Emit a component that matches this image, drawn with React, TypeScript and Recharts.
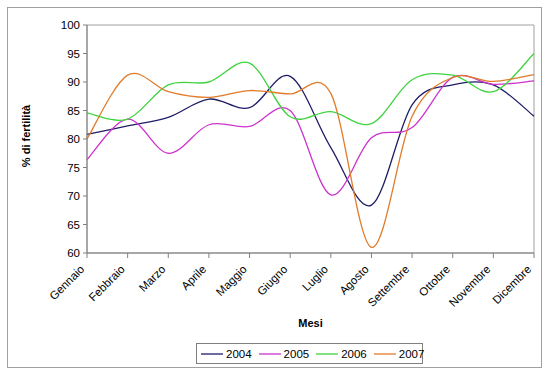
import React from 'react';
import { LineChart, Line, XAxis, YAxis, Legend, ReferenceArea } from 'recharts';

const MONTHS = ['Gennaio', 'Febbraio', 'Marzo', 'Aprile', 'Maggio', 'Giugno', 'Luglio', 'Agosto', 'Settembre', 'Ottobre', 'Novembre', 'Dicembre'];
const Y2004 = [80.8, 82.3, 83.8, 87.0, 85.5, 91.0, 78.5, 68.4, 86.0, 89.5, 89.5, 84.0];
const Y2005 = [76.4, 83.5, 77.5, 82.5, 82.2, 85.0, 70.2, 80.2, 82.0, 90.8, 89.6, 90.2];
const Y2006 = [84.6, 83.5, 89.5, 90.0, 93.3, 83.9, 84.8, 82.7, 90.4, 91.2, 88.3, 95.0];
const Y2007 = [80.0, 91.2, 88.3, 87.3, 88.5, 87.9, 88.0, 61.0, 84.0, 90.8, 90.1, 91.3];
const Y_TICKS = [60, 65, 70, 75, 80, 85, 90, 95, 100];

const SERIES = [
  { key: '2004', values: Y2004, color: '#1f1d66' },
  { key: '2005', values: Y2005, color: '#cc33cc' },
  { key: '2006', values: Y2006, color: '#3fd33f' },
  { key: '2007', values: Y2007, color: '#e07b2a' },
];

const data = MONTHS.map((m, i) => {
  const row: any = { month: m };
  SERIES.forEach((s) => (row[s.key] = s.values[i]));
  return row;
});

const FONT = 'Liberation Sans, Arial, sans-serif';

// smoothing similar to Excel's "smoothed line" (catmull-rom style bezier)
const smoothCurve = (context: any) => {
  let pts: number[][] = [];
  return {
    areaStart() {},
    areaEnd() {},
    lineStart() {
      pts = [];
    },
    lineEnd() {
      if (!pts.length) return;
      context.moveTo(pts[0][0], pts[0][1]);
      for (let i = 0; i < pts.length - 1; i++) {
        const p0 = pts[i - 1] || pts[i];
        const p1 = pts[i];
        const p2 = pts[i + 1];
        const p3 = pts[i + 2] || p2;
        const t = 1 / 6;
        context.bezierCurveTo(
          p1[0] + (p2[0] - p0[0]) * t,
          p1[1] + (p2[1] - p0[1]) * t,
          p2[0] - (p3[0] - p1[0]) * t,
          p2[1] - (p3[1] - p1[1]) * t,
          p2[0],
          p2[1]
        );
      }
    },
    point(x: number, y: number) {
      pts.push([+x, +y]);
    },
  };
};

const MonthTick = (props: any) => {
  const { x, y, payload } = props;
  const tx = x - 2;
  const ty = y + 10;
  return (
    <text
      x={tx}
      y={ty}
      transform={`rotate(-45, ${tx}, ${ty})`}
      textAnchor="end"
      fontSize={11.5}
      fontFamily={FONT}
      fill="#000"
    >
      {payload.value}
    </text>
  );
};

const LegendBox = () => (
  <div
    style={{
      border: '1px solid #808080',
      height: 21,
      boxSizing: 'border-box',
      display: 'flex',
      alignItems: 'center',
      paddingLeft: 4,
      fontFamily: FONT,
      fontSize: 11.5,
      background: '#fff',
    }}
  >
    {SERIES.map((s) => (
      <div key={s.key} style={{ display: 'flex', alignItems: 'center', marginRight: 7 }}>
        <svg width={22} height={4} style={{ marginRight: 3 }}>
          <line x1={0} y1={2} x2={22} y2={2} stroke={s.color} strokeWidth={1.3} />
        </svg>
        <span>{s.key}</span>
      </div>
    ))}
  </div>
);

export default function App() {
  return (
    <div style={{ position: 'absolute', left: 0, top: 0, width: 550, height: 375, background: '#fff' }}>
      <div
        style={{
          position: 'absolute',
          left: 7,
          top: 7,
          width: 535,
          height: 361,
          border: '1px solid #a0a0a0',
          boxSizing: 'border-box',
        }}
      />
      <LineChart
        width={550}
        height={375}
        data={data}
        margin={{ top: 25, right: 16, left: 0, bottom: 11 }}
        style={{ position: 'absolute', left: 0, top: 0 }}
      >
        <ReferenceArea x1="Gennaio" x2="Dicembre" y1={60} y2={100} fill="none" stroke="#a0a0a0" strokeWidth={1} ifOverflow="visible" />
        <XAxis
          dataKey="month"
          height={90}
          interval={0}
          tick={<MonthTick />}
          tickSize={5}
          stroke="#808080"
          axisLine={{ stroke: '#808080' }}
          label={{ value: 'Mesi', position: 'insideBottom', offset: 16, fontSize: 11, fontWeight: 'bold', fontFamily: FONT, fill: '#000' }}
        />
        <YAxis
          width={87}
          domain={[60, 100]}
          ticks={Y_TICKS}
          interval={0}
          tickSize={4}
          tickMargin={3}
          stroke="#808080"
          tick={{ fontSize: 11.5, fontFamily: FONT, fill: '#000' }}
          label={{
            content: () => (
              <text
                x={30}
                y={136}
                transform="rotate(-90, 30, 136)"
                textAnchor="middle"
                fontSize={11}
                fontWeight="bold"
                fontFamily={FONT}
                fill="#000"
              >
                % di fertilità
              </text>
            ),
          }}
        />
        {SERIES.map((s) => (
          <Line
            key={s.key}
            dataKey={s.key}
            type={smoothCurve as any}
            stroke={s.color}
            strokeWidth={1.3}
            dot={false}
            activeDot={false}
            isAnimationActive={false}
          />
        ))}
        <Legend
          verticalAlign="bottom"
          height={21}
          content={<LegendBox />}
          wrapperStyle={{ left: 196, width: 227, bottom: 11 }}
        />
      </LineChart>
    </div>
  );
}
